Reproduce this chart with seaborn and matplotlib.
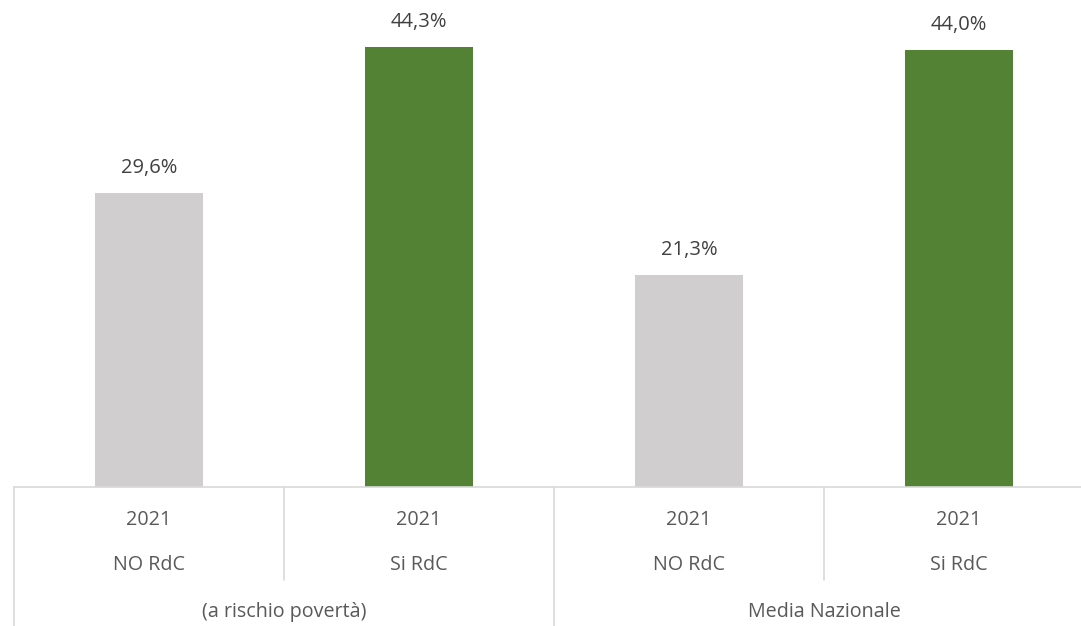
import matplotlib
matplotlib.use("Agg")
import matplotlib.pyplot as plt
import matplotlib.transforms as mtransforms
import pandas as pd
import seaborn as sns

# Data
groups = ["(a rischio povertà)", "(a rischio povertà)", "Media Nazionale", "Media Nazionale"]
status = ["NO RdC", "Si RdC", "NO RdC", "Si RdC"]
years = ["2021", "2021", "2021", "2021"]
values = [29.6, 44.3, 21.3, 44.0]
bar_colors = ["#D0CECE", "#548235", "#D0CECE", "#548235"]

df = pd.DataFrame({
    "key": [f"{g}|{s}" for g, s in zip(groups, status)],
    "value": values,
})

sns.set_theme(style="white")
plt.rcParams["font.family"] = ["Open Sans", "DejaVu Sans"]

fig = plt.figure(figsize=(10.81, 6.26), dpi=100)
ax = fig.add_axes([14 / 1081, 139 / 626, 1080 / 1081, 487 / 626])

sns.barplot(data=df, x="key", y="value", hue="key", palette=bar_colors,
            width=0.4, legend=False, ax=ax, saturation=1, linewidth=0)

ax.set_xlim(-0.5, 3.5)
ax.set_ylim(0, 49)
for side in ["left", "right", "top"]:
    ax.spines[side].set_visible(False)
ax.spines["bottom"].set_color("#D9D9D9")
ax.spines["bottom"].set_linewidth(1.2)
ax.set_yticks([])
ax.set_xticks([])
ax.set_xlabel("")
ax.set_ylabel("")

# Value labels
for i, v in enumerate(values):
    ax.annotate(f"{v:.1f}%".replace(".", ","), xy=(i, v), xytext=(0, 18),
                textcoords="offset points", ha="center", va="center",
                fontsize=14.5, color="#404040")

# Multi-level category axis
trans = mtransforms.blended_transform_factory(ax.transData, ax.transAxes)
label_color = "#595959"
fs = 14.2
for i in range(len(values)):
    ax.text(i, -0.068, years[i], transform=trans, ha="center", va="center",
            fontsize=fs, color=label_color)
    ax.text(i, -0.160, status[i], transform=trans, ha="center", va="center",
            fontsize=fs, color=label_color)

# Group labels
unique_groups = []
for g in groups:
    if g not in unique_groups:
        unique_groups.append(g)
for gi, g in enumerate(unique_groups):
    idx = [i for i, gg in enumerate(groups) if gg == g]
    center = (idx[0] + idx[-1]) / 2
    ax.text(center, -0.257, g, transform=trans, ha="center", va="center",
            fontsize=fs, color=label_color)

# Separators between categories
sep_color = "#D9D9D9"
for b in [-0.5, 1.5, 3.5]:
    ax.plot([b, b], [0, -0.30], transform=trans, color=sep_color, lw=1.2, clip_on=False)
for b in [0.5, 2.5]:
    ax.plot([b, b], [0, -0.191], transform=trans, color=sep_color, lw=1.2, clip_on=False)

fig.savefig("out.png", dpi=100)
